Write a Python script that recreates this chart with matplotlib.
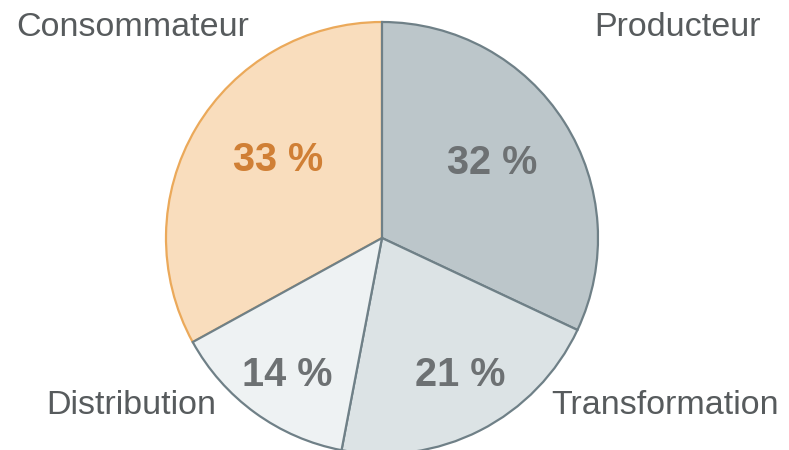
import matplotlib
matplotlib.use("Agg")
import matplotlib.pyplot as plt

categories = ["Producteur", "Transformation", "Distribution", "Consommateur"]
values = [32, 21, 14, 33]
pct_labels = ["32 %", "21 %", "14 %", "33 %"]

fills = ["#bcc6ca", "#dce3e5", "#eef2f3", "#f9ddbd"]
edges = ["#6f8087", "#6f8087", "#6f8087", "#eba95a"]
pct_colors = ["#6d7173", "#6d7173", "#6d7173", "#d07f35"]

W, H = 789, 450
fig = plt.figure(figsize=(W / 100, H / 100), dpi=100)
ax = fig.add_axes([0, 0, 1, 1])
ax.set_xlim(0, W)
ax.set_ylim(0, H)
ax.set_aspect("equal")
ax.axis("off")

cx, cy, r = 382, H - 238, 216
wedges, _ = ax.pie(values, startangle=90, counterclock=False, colors=fills,
                   center=(cx, cy), radius=r, frame=True,
                   wedgeprops=dict(linewidth=1.6))
for w, ec in zip(wedges, edges):
    w.set_edgecolor(ec)
wedges[3].set_zorder(1)
for w in wedges[:3]:
    w.set_zorder(2)
ax.set_xlim(0, W)
ax.set_ylim(0, H)
ax.axis("off")

font = "Liberation Sans"
label_pos = {"Producteur": (678, 28), "Transformation": (665, 405),
             "Distribution": (131, 405), "Consommateur": (133, 28)}
for c in categories:
    x, y = label_pos[c]
    ax.text(x, H - y, c, ha="center", va="center", fontsize=24.5,
            color="#575b5d", family=font, zorder=5)

pct_pos = [(492, 163), (460, 375), (287, 375), (278, 160)]
for (x, y), t, col in zip(pct_pos, pct_labels, pct_colors):
    ax.text(x, H - y, t, ha="center", va="center", fontsize=28.5,
            fontweight="bold", color=col, family=font, zorder=5)

fig.savefig("out.png", dpi=100)
